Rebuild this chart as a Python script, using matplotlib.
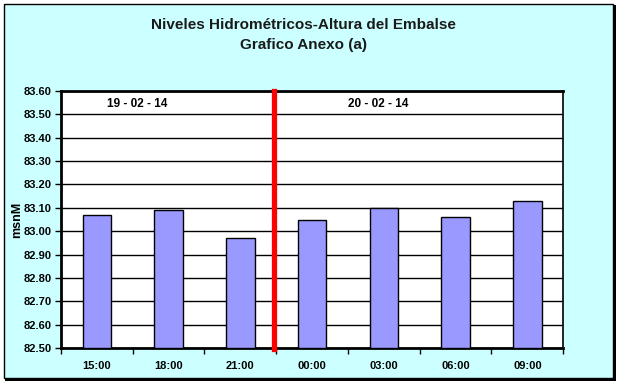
import matplotlib.pyplot as plt
from matplotlib.patches import Rectangle

# data
horas = ['15:00', '18:00', '21:00', '00:00', '03:00', '06:00', '09:00']
niveles = [83.07, 83.09, 82.97, 83.05, 83.10, 83.06, 83.13]
yticks = [82.50, 82.60, 82.70, 82.80, 82.90, 83.00, 83.10, 83.20, 83.30, 83.40, 83.50, 83.60]
fechas = ['19 - 02 - 14', '20 - 02 - 14']

plt.rcParams['font.family'] = ['Liberation Sans', 'DejaVu Sans']

W, H = 620, 385
fig = plt.figure(figsize=(6.2, 3.85), dpi=100)
fig.patch.set_facecolor('white')

# chart area with black border and a drop shadow (pixel coords -> figure fraction)
def px_rect(x0, y0, x1, y1, **kw):
    return Rectangle((x0 / W, 1 - y1 / H), (x1 - x0) / W, (y1 - y0) / H,
                     transform=fig.transFigure, **kw)

fig.patches.append(px_rect(5, 5, 615.5, 380.5, facecolor='black', edgecolor='none', zorder=-2))
fig.patches.append(px_rect(3.5, 3.5, 613, 378, facecolor='#CCFFFF', edgecolor='black',
                           lw=1, zorder=-1))

ax = fig.add_axes([0.0984, 0.0961, 0.810, 0.6675])
ax.set_facecolor('white')

x = list(range(len(horas)))
ax.bar(x, [v - 82.5 for v in niveles], bottom=82.5, width=0.4,
       color='#9999FF', edgecolor='black', linewidth=1, zorder=3)

ax.set_xlim(-0.5, len(horas) - 0.5)
ax.set_ylim(82.5, 83.6)
ax.set_yticks(yticks)
ax.set_yticklabels(['%.2f' % t for t in yticks], fontsize=8, fontweight='bold')
ax.yaxis.grid(True, color='black', lw=1, zorder=1)
ax.set_axisbelow(True)

# category labels centred, ticks on category boundaries
ax.set_xticks(x)
ax.set_xticklabels(horas, fontsize=8, fontweight='bold')
ax.tick_params(axis='x', length=0, pad=9)
ax.set_xticks([i + 0.5 for i in range(-1, len(horas))], minor=True)
ax.tick_params(axis='x', which='minor', length=4, width=1, direction='out')
ax.tick_params(axis='y', length=4, width=1, direction='out', pad=3)

for s in ax.spines.values():
    s.set_color('black')
    s.set_linewidth(1.2)
ax.spines['bottom'].set_linewidth(2)
ax.spines['left'].set_linewidth(2)
ax.spines['top'].set_linewidth(2)

# day separator
ax.axvline(2.47, color='#FF0000', lw=3.8, zorder=4, clip_on=False, ymin=-0.005, ymax=1)

ax.text(0.56, 83.544, fechas[0], ha='center', va='center', fontsize=8.5, fontweight='bold')
ax.text(3.92, 83.544, fechas[1], ha='center', va='center', fontsize=8.5, fontweight='bold')

ax.set_ylabel('msnM', fontsize=9, fontweight='bold', labelpad=0)

fig.text(0.489, 0.935, 'Niveles Hidrométricos-Altura del Embalse', ha='center', va='center',
         fontsize=11, fontweight='bold', color='#1a1a1a')
fig.text(0.489, 0.883, 'Grafico Anexo (a)', ha='center', va='center',
         fontsize=11, fontweight='bold', color='#1a1a1a')

fig.savefig('out.png', dpi=100, facecolor=fig.get_facecolor())
